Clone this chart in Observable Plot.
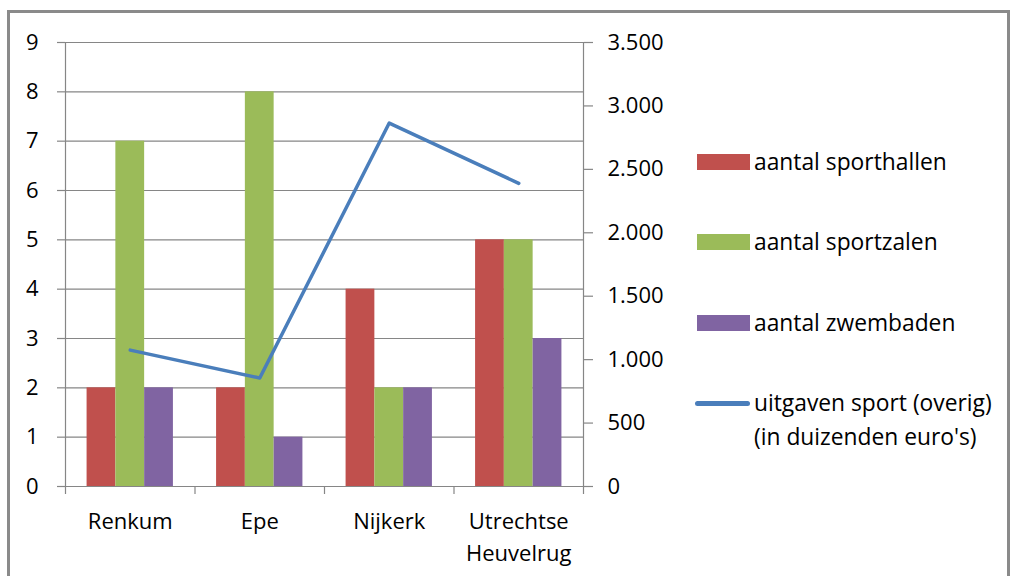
<!DOCTYPE html>
<html>
<head>
<meta charset="utf-8">
<script src="https://cdn.jsdelivr.net/npm/d3@7"></script>
<script src="https://cdn.jsdelivr.net/npm/@observablehq/plot@0.6"></script>
<style>
  html, body { margin: 0; padding: 0; background: #fff; }
  #wrap { position: relative; width: 1012px; height: 576px; overflow: hidden; font-family: "Open Sans", sans-serif; }
  #frame { position: absolute; left: 7px; top: 10px; width: 1003px; height: 620px; border: 3px solid #8a8a8a; box-sizing: border-box; pointer-events: none; }
  #chart { position: absolute; left: 0; top: 0; }
  .leg { position: absolute; left: 695px; font-size: 22.8px; color: #000; line-height: 34px; }
  .sw { position: absolute; left: 2px; width: 53px; height: 16px; }
  .ln { position: absolute; left: 0; width: 55px; height: 5px; border-radius: 3px; }
  .lt { position: absolute; left: 59px; white-space: nowrap; }
</style>
</head>
<body>
<div id="wrap">
  <div id="chart"></div>
  <div id="legend"></div>
  <div id="frame"></div>
</div>
<script>
const categories = ["Renkum", "Epe", "Nijkerk", "Utrechtse Heuvelrug"];
const seriesNames = ["aantal sporthallen", "aantal sportzalen", "aantal zwembaden"];
const sporthallen = [2, 2, 4, 5];
const sportzalen = [7, 8, 2, 5];
const zwembaden = [2, 1, 2, 3];
const uitgaven = [1075, 855, 2865, 2390];
const lineName = "uitgaven sport (overig)\n(in duizenden euro's)";
const leftTicks = [0, 1, 2, 3, 4, 5, 6, 7, 8, 9];
const rightTicks = [0, 500, 1000, 1500, 2000, 2500, 3000, 3500];
const colors = ["#C0504D", "#9BBB59", "#8064A2"];
const lineColor = "#4A7EBB";

const leftMax = 9, rightMax = 3500;
const toLeft = v => v * leftMax / rightMax;
const nl = d3.formatLocale({decimal: ",", thousands: ".", grouping: [3], currency: ["€", ""]});
const fmt = nl.format(",d");

const seriesValues = [sporthallen, sportzalen, zwembaden];
const bars = [];
categories.forEach((c, i) => {
  seriesValues.forEach((vals, j) => {
    bars.push({cat: c, i, j, series: seriesNames[j], value: vals[i]});
  });
});
const lineData = categories.map((c, i) => ({cat: c, i, value: uitgaven[i]}));

const groupStart = 1 / 6, barW = 2 / 9;

const plot = Plot.plot({
  width: 1012,
  height: 576,
  marginLeft: 65,
  marginRight: 429,
  marginTop: 42,
  marginBottom: 90,
  style: {fontFamily: "Open Sans, sans-serif", fontSize: "22px", color: "#000", background: "transparent"},
  x: {type: "linear", domain: [0, categories.length], axis: null},
  y: {domain: [0, leftMax], axis: null},
  color: {domain: seriesNames, range: colors},
  marks: [
    Plot.gridY(leftTicks, {stroke: "#868686", strokeOpacity: 1, strokeWidth: 1.2}),
    Plot.rectY(bars, {
      x1: d => d.i + groupStart + d.j * barW,
      x2: d => d.i + groupStart + (d.j + 1) * barW,
      y: "value",
      fill: "series"
    }),
    Plot.ruleY([0], {stroke: "#868686", strokeWidth: 1.2}),
    Plot.ruleX([0, categories.length], {stroke: "#868686", strokeWidth: 1.2}),
    Plot.axisY({ticks: leftTicks, anchor: "left", tickSize: 8, tickPadding: 19, stroke: "#868686", strokeWidth: 1.2, label: null, tickFormat: d => String(d), fill: "#000"}),
    Plot.axisY({ticks: rightTicks.map(toLeft), anchor: "right", tickSize: 9, tickPadding: 15, stroke: "#868686", strokeWidth: 1.2, label: null, tickFormat: d => fmt(Math.round(d * rightMax / leftMax)), fill: "#000"}),
    Plot.axisX({ticks: d3.range(categories.length + 1), anchor: "bottom", tickSize: 8, stroke: "#868686", strokeWidth: 1.2, tickFormat: () => "", label: null}),
    Plot.axisX({ticks: categories.map((c, i) => i + 0.5), anchor: "bottom", tickSize: 0, tickPadding: 20, label: null, lineHeight: 1.45, fill: "#000",
      tickFormat: t => categories[Math.floor(t)].replace(" ", "\n")}),
    Plot.line(lineData, {x: d => d.i + 0.5, y: d => toLeft(d.value), stroke: lineColor, strokeWidth: 3.5, strokeLinecap: "round", strokeLinejoin: "round"})
  ]
});
document.getElementById("chart").appendChild(plot);

// legend
const legend = document.getElementById("legend");
const itemCenters = [162, 242, 323];
seriesNames.forEach((name, j) => {
  const d = document.createElement("div");
  d.className = "leg";
  d.style.top = (itemCenters[j] - 17) + "px";
  d.innerHTML = `<div class="sw" style="background:${colors[j]};top:9px"></div><div class="lt">${name}</div>`;
  legend.appendChild(d);
});
const dl = document.createElement("div");
dl.className = "leg";
dl.style.top = (403 - 17) + "px";
dl.innerHTML = `<div class="ln" style="background:${lineColor};top:15px"></div><div class="lt">${lineName.replace("\n", "<br>")}</div>`;
legend.appendChild(dl);
</script>
</body>
</html>
